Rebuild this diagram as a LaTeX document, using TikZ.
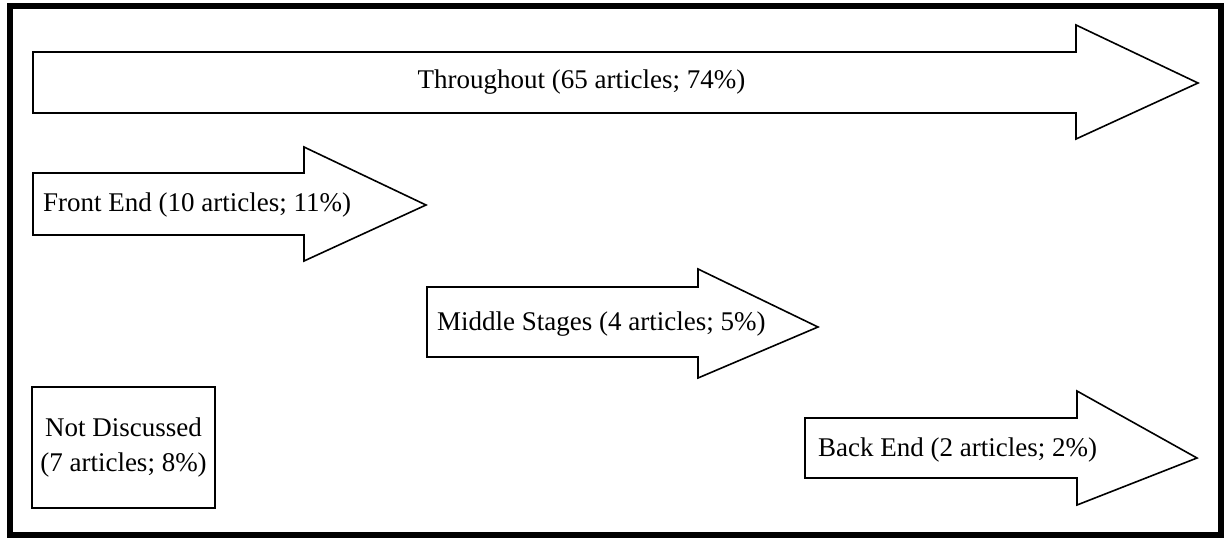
\documentclass[tikz,border=0pt]{standalone}
\usepackage{fontspec}
\setmainfont{Liberation Serif}
\usetikzlibrary{positioning}

\begin{document}
\begin{tikzpicture}[x=1pt, y=-1pt,
    stage/.style={draw, line width=1.6pt, line join=miter, fill=white},
    label/.style={font=\fontsize{27}{34}\selectfont, inner sep=0pt},
    box/.style={rectangle, draw, line width=1.6pt, align=center, minimum width=183pt, minimum height=121pt, font=\fontsize{27}{35}\selectfont}]
    \useasboundingbox (0,0) rectangle (1224,539);
    \draw[line width=6pt] (9.5,6.3) rectangle (1220.5,535);

    % stage arrows
    \draw[stage] (33,52) -- (1076,52) -- (1076,25) -- (1198,83) -- (1076,139) -- (1076,113) -- (33,113) -- cycle;
    \draw[stage] (33,173) -- (304,173) -- (304,147) -- (426,205) -- (304,261) -- (304,235) -- (33,235) -- cycle;
    \draw[stage] (427,287) -- (698,287) -- (698,269) -- (818,327) -- (698,378) -- (698,357) -- (427,357) -- cycle;
    \draw[stage] (805,418) -- (1077,418) -- (1077,391) -- (1197,458) -- (1077,505) -- (1077,478) -- (805,478) -- cycle;

    \node[label] (throughout) at (581.5,82) {Throughout (65 articles; 74\%)};
    \node[label, anchor=west] (front) at (43,205) {Front End (10 articles; 11\%)};
    \node[label, anchor=west] (middle) at (437,324) {Middle Stages (4 articles; 5\%)};
    \node[label, anchor=west] (back) at (818,450) {Back End (2 articles; 2\%)};

    \node[box] (none) at (123.5,447.5) {Not Discussed\\(7 articles; 8\%)};
\end{tikzpicture}
\end{document}
